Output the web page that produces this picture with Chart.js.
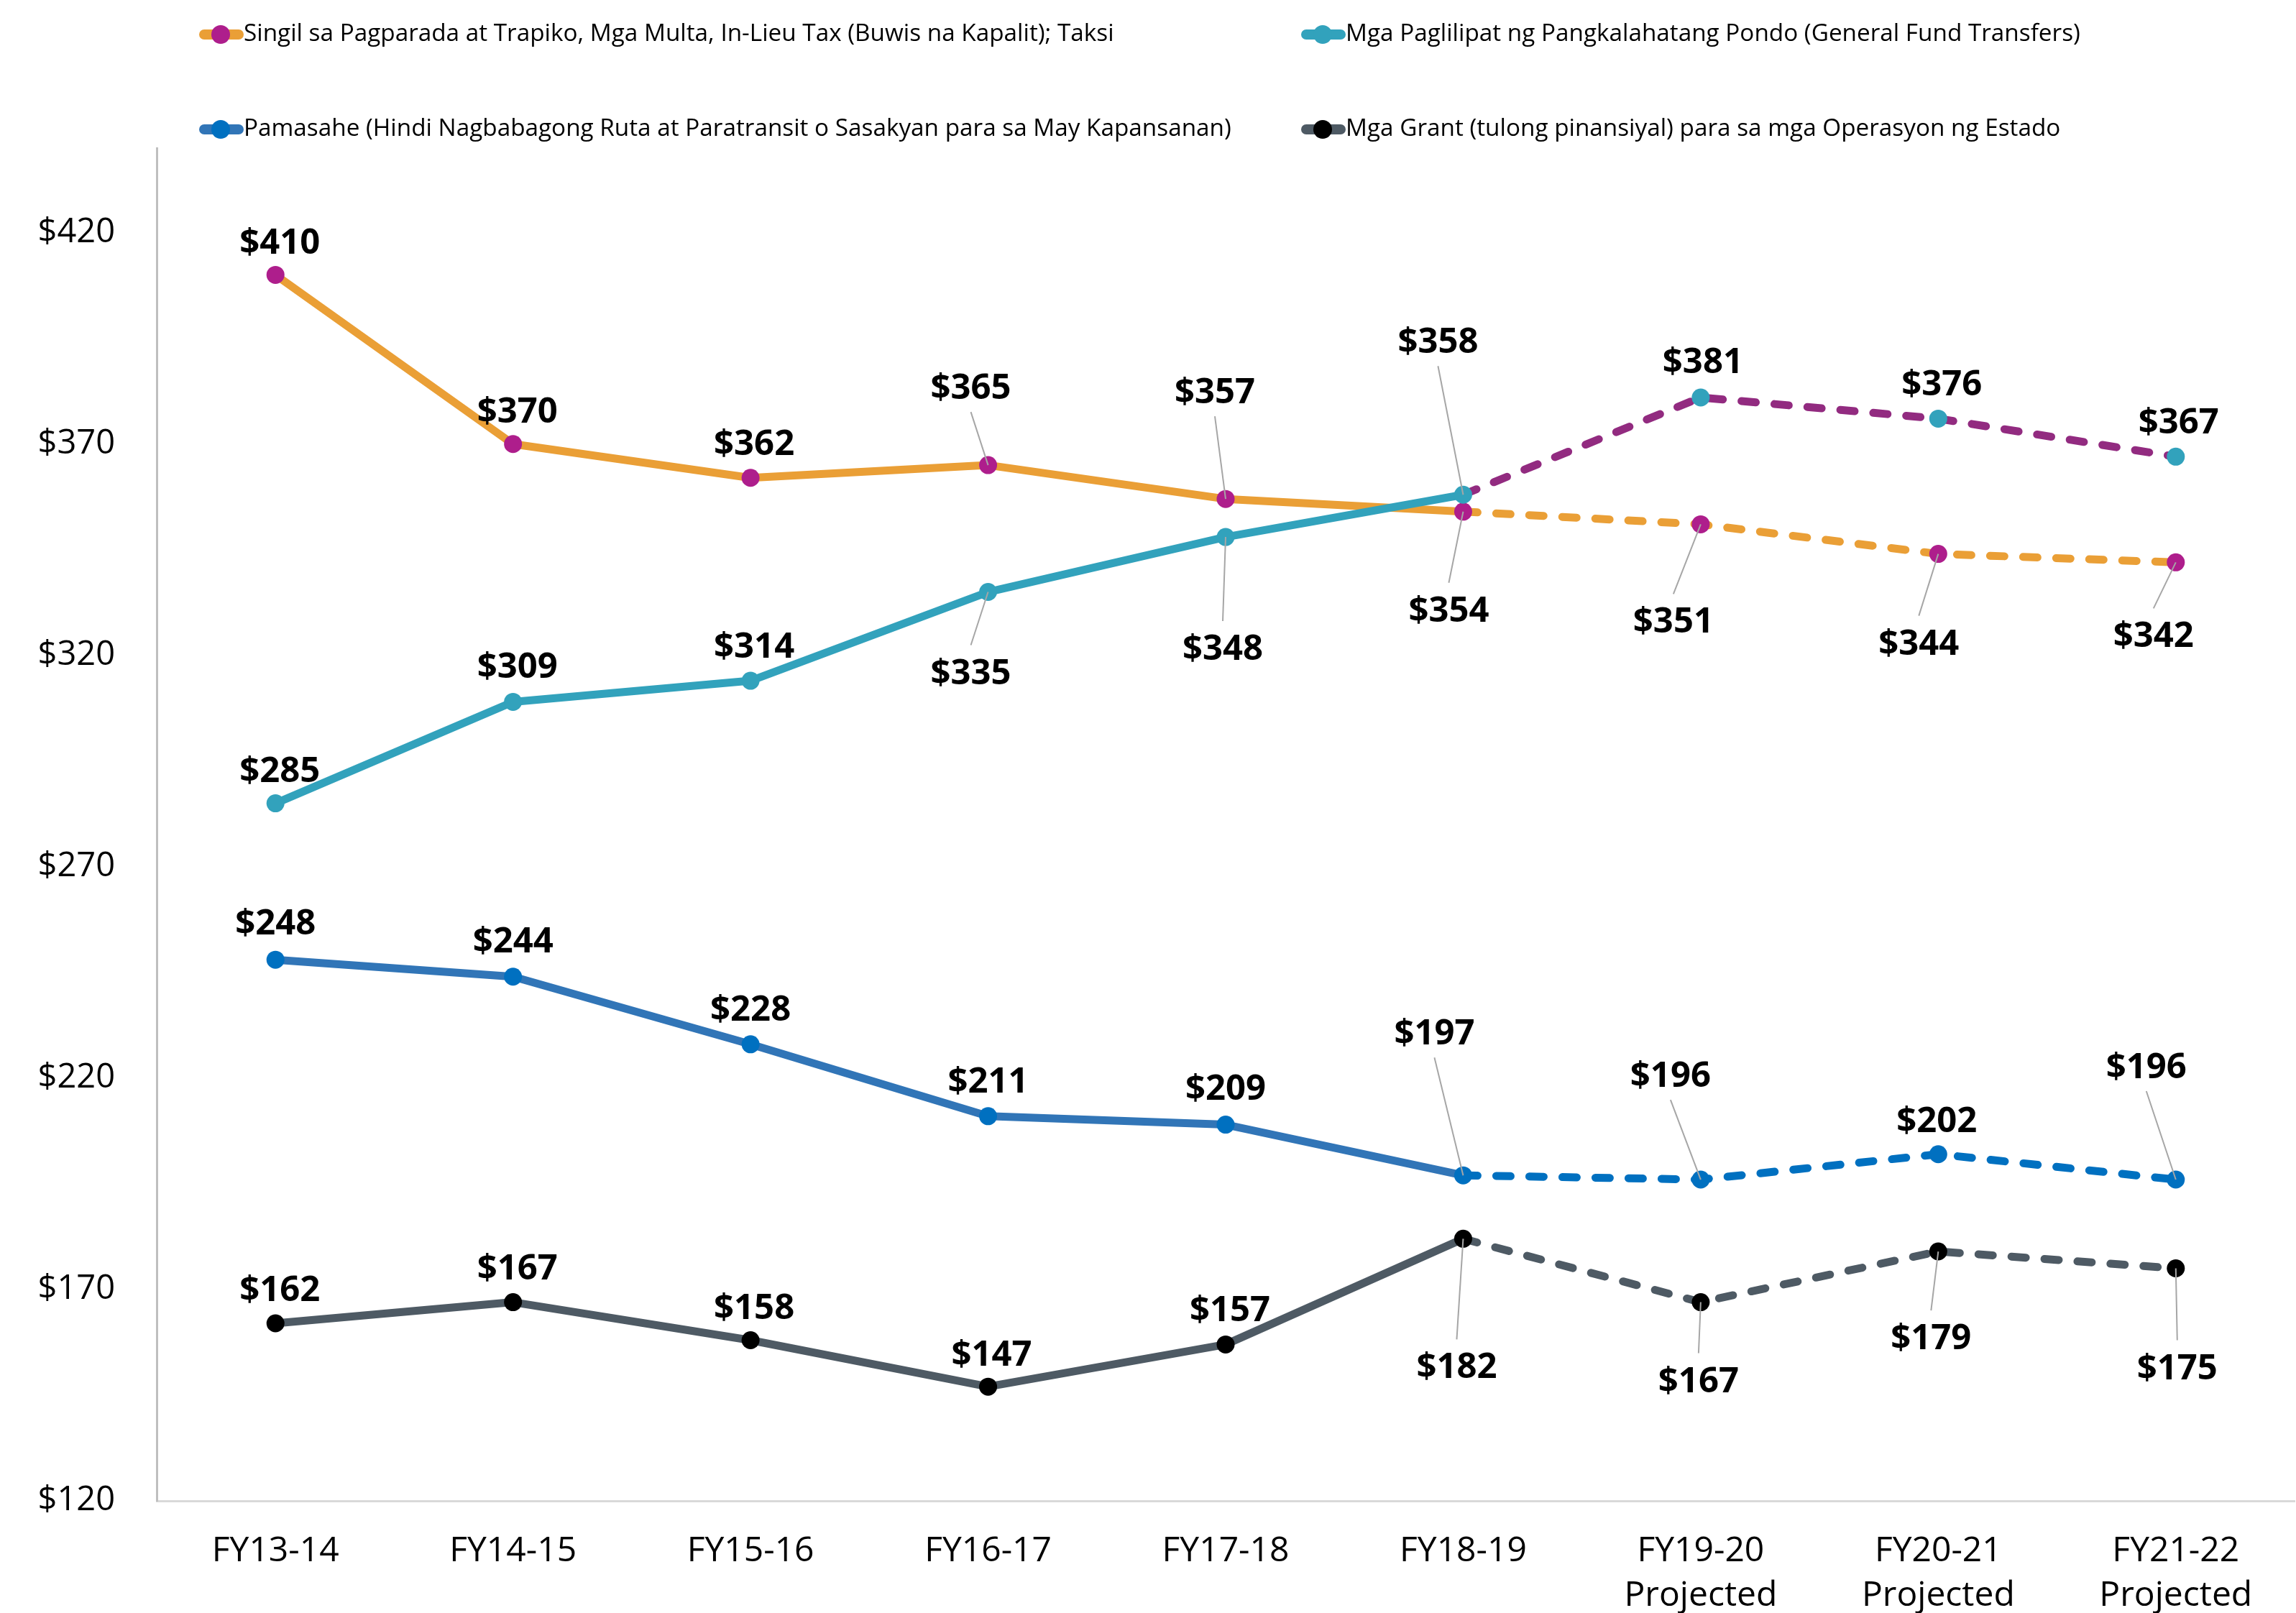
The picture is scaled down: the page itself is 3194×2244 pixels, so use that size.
<!DOCTYPE html>
<html>
<head>
<meta charset="utf-8">
<script src="https://cdn.jsdelivr.net/npm/chart.js@4.4.1/dist/chart.umd.min.js"></script>
<style>
  html, body { margin: 0; padding: 0; background: #fff; overflow: hidden; }
  #chart { display: block; }
</style>
</head>
<body>
<canvas id="chart" width="3194" height="2244"></canvas>
<script>
// categories
var years = ["FY13-14", "FY14-15", "FY15-16", "FY16-17", "FY17-18", "FY18-19",
             ["FY19-20", "Projected"], ["FY20-21", "Projected"], ["FY21-22", "Projected"]];

// series values (millions)
var fees   = [410, 370, 362, 365, 357, 354, 351, 344, 342];
var gfund  = [285, 309, 314, 335, 348, 358, 381, 376, 367];
var fares  = [248, 244, 228, 211, 209, 197, 196, 202, 196];
var grants = [162, 167, 158, 147, 157, 182, 167, 179, 175];

// legend names
var names = [
    "Singil sa Pagparada at Trapiko, Mga Multa, In-Lieu Tax (Buwis na Kapalit); Taksi",
    "Mga Paglilipat ng Pangkalahatang Pondo (General Fund Transfers)",
    "Pamasahe (Hindi Nagbabagong Ruta at Paratransit o Sasakyan para sa May Kapansanan)",
    "Mga Grant (tulong pinansiyal) para sa mga Operasyon ng Estado"
];

// y ticks
var yMin = 120, yMax = 440;
var yTicks = [120, 170, 220, 270, 320, 370, 420];

// index from which values are projected (dashed)
var projFrom = 5;

// label placement: [dx, dy, leader] relative to the point, in px
var feesLbl   = [[6,-47,0],[6,-48,0],[5,-50,0],[-24,-110,1],[-15,-151,1],[-20,135,1],[-38,133,1],[-27,122,1],[-31,100,1]];
var gfundLbl  = [[6,-48,0],[6,-51,0],[5,-50,0],[-24,110,1],[-4,153,1],[-35,-215,1],[3,-52,0],[5,-50,0],[4,-50,0]];
var faresLbl  = [[0,-53,0],[0,-52,0],[0,-51,0],[0,-51,0],[0,-53,0],[-40,-200,1],[-42,-147,1],[-2,-49,0],[-41,-159,1]];
var grantsLbl = [[6,-49,0],[6,-50,0],[5,-48,0],[5,-47,0],[6,-50,0],[-9,176,1],[-3,107,1],[-10,118,1],[2,136,1]];

var FONT = "'Open Sans', 'Noto Sans', sans-serif";

function dashed(color) {
    return {
        borderDash: function (c) { return c.p0DataIndex >= projFrom ? [20, 26] : undefined; },
        borderColor: function (c) { return c.p0DataIndex >= projFrom ? color : undefined; }
    };
}

function series(label, data, lineColor, pointColor, dashColor, lbl, order) {
    return {
        label: label,
        data: data,
        borderColor: lineColor,
        backgroundColor: pointColor,
        pointBackgroundColor: pointColor,
        pointBorderWidth: 0,
        pointRadius: 12.5,
        borderWidth: 11,
        borderCapStyle: "round",
        borderJoinStyle: "round",
        tension: 0,
        clip: false,
        order: order,
        segment: dashed(dashColor),
        labelPos: lbl,
        legendLine: lineColor,
        legendDot: pointColor
    };
}

// draws value labels with thin leader lines
var valueLabels = {
    id: "valueLabels",
    afterDatasetsDraw: function (chart) {
        var ctx = chart.ctx;
        ctx.save();
        ctx.font = "bold 49px " + FONT;
        ctx.textAlign = "center";
        ctx.textBaseline = "alphabetic";
        chart.data.datasets.forEach(function (ds, di) {
            var meta = chart.getDatasetMeta(di);
            meta.data.forEach(function (pt, i) {
                var p = ds.labelPos[i];
                var lx = pt.x + p[0], ly = pt.y + p[1];
                if (p[2]) {
                    var end = p[1] < 0 ? ly + 36 : ly - 36;
                    ctx.strokeStyle = "#a6a6a6";
                    ctx.lineWidth = 2;
                    ctx.beginPath();
                    ctx.moveTo(lx, end);
                    ctx.lineTo(pt.x, pt.y);
                    ctx.stroke();
                }
                ctx.fillStyle = "#000";
                ctx.fillText("$" + ds.data[i], lx, ly + 18);
            });
        });
        ctx.restore();
    }
};

// legend in two fixed columns
var legendCols = {
    id: "legendCols",
    afterDraw: function (chart) {
        var ctx = chart.ctx;
        var spots = [[277, 48], [1810, 48], [277, 180], [1810, 180]];
        ctx.save();
        ctx.font = "33.3px " + FONT;
        ctx.textBaseline = "middle";
        ctx.textAlign = "left";
        chart.data.datasets.forEach(function (ds, i) {
            var x = spots[i][0], y = spots[i][1];
            ctx.strokeStyle = ds.legendLine;
            ctx.lineWidth = 14;
            ctx.lineCap = "round";
            ctx.beginPath();
            ctx.moveTo(x + 7, y);
            ctx.lineTo(x + 55, y);
            ctx.stroke();
            ctx.fillStyle = ds.legendDot;
            ctx.beginPath();
            ctx.arc(x + 30, y, 13, 0, Math.PI * 2);
            ctx.fill();
            ctx.fillStyle = "#000";
            ctx.fillText(ds.label, x + 62, y);
        });
        ctx.restore();
    }
};

new Chart(document.getElementById("chart"), {
    type: "line",
    data: {
        labels: years,
        datasets: [
            series(names[0], fees, "#EA9F36", "#AE1E8C", "#EA9F36", feesLbl, 1),
            series(names[1], gfund, "#32A2BC", "#32A2BC", "#922B80", gfundLbl, 0),
            series(names[2], fares, "#3175B7", "#0070C0", "#0070C0", faresLbl, 2),
            series(names[3], grants, "#4E5A64", "#000000", "#4E5A64", grantsLbl, 3)
        ]
    },
    options: {
        responsive: false,
        animation: false,
        layout: { autoPadding: false, padding: { top: 206, right: 2, left: 0, bottom: 0 } },
        plugins: {
            legend: { display: false },
            tooltip: { enabled: false }
        },
        scales: {
            x: {
                offset: true,
                grid: { display: false },
                border: { display: true, color: "#d9d9d9", width: 3 },
                ticks: {
                    color: "#000",
                    padding: 31,
                    maxRotation: 0,
                    autoSkip: false,
                    font: { family: FONT, size: 48, lineHeight: 1.3 }
                },
                afterFit: function (s) {
                    s.height = 156;
                    s.paddingLeft = 0;
                    s.paddingRight = 0;
                }
            },
            y: {
                min: yMin,
                max: yMax,
                grid: { display: false },
                border: { display: true, color: "#bfbfbf", width: 3 },
                ticks: {
                    color: "#000",
                    padding: 50,
                    font: { family: FONT, size: 47 },
                    callback: function (v) { return "$" + v; }
                },
                afterBuildTicks: function (s) {
                    s.ticks = yTicks.map(function (v) { return { value: v }; });
                },
                afterFit: function (s) {
                    s.width = 218;
                    s.paddingTop = 0;
                    s.paddingBottom = 0;
                }
            }
        }
    },
    plugins: [valueLabels, legendCols]
});
</script>
</body>
</html>
